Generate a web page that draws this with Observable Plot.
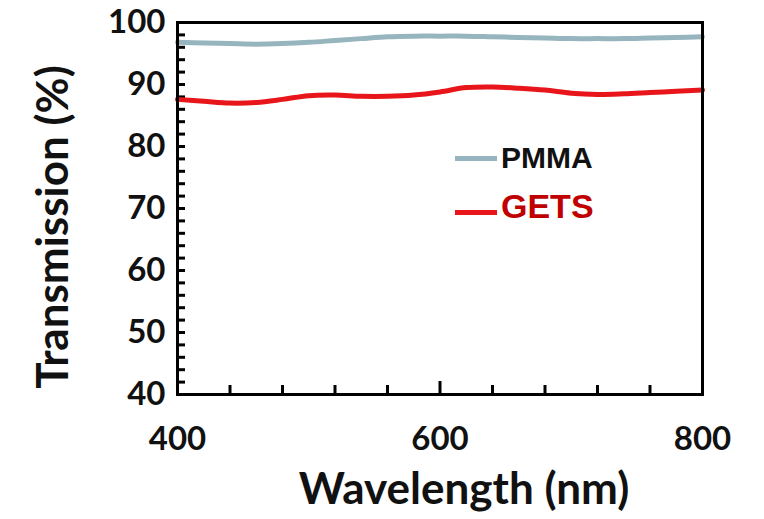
<!DOCTYPE html>
<html>
<head>
<meta charset="utf-8">
<script src="https://cdn.jsdelivr.net/npm/d3@7"></script>
<script src="https://cdn.jsdelivr.net/npm/@observablehq/plot@0.6"></script>
<style>
  html, body { margin: 0; padding: 0; background: #fff; }
  #wrap { position: relative; width: 764px; height: 519px; }
  .legend { position: absolute; font-family: "Liberation Sans", Arial, sans-serif; font-weight: bold; display: flex; align-items: center; }
  .legend .sw { display: inline-block; width: 42px; height: 5px; margin-right: 4px; }
  .ytitle { position: absolute; left: 51px; top: 227px; transform: translate(-50%, -50%) rotate(-90deg);
            white-space: nowrap; font-family: Lato, "Open Sans", sans-serif; font-weight: bold; font-size: 44px; color: #111; line-height: 1; }
</style>
</head>
<body>
<div id="wrap"></div>
<script>
// ---- data ----
const wavelengths = [400, 420, 440, 460, 480, 500, 520, 540, 560, 580, 600, 620, 640, 660, 680, 700, 720, 740, 760, 780, 800];
const pmma = [96.8, 96.7, 96.6, 96.5, 96.6, 96.8, 97.1, 97.4, 97.7, 97.8, 97.8, 97.8, 97.7, 97.6, 97.5, 97.4, 97.4, 97.4, 97.5, 97.6, 97.7];
const gets = [87.6, 87.3, 87.0, 87.1, 87.6, 88.2, 88.3, 88.1, 88.1, 88.3, 88.8, 89.5, 89.6, 89.4, 89.1, 88.6, 88.4, 88.5, 88.7, 88.9, 89.1];
const seriesNames = ["PMMA", "GETS"];
const seriesColors = ["#97b5be", "#e8161b"];
const legendTextColors = ["#111111", "#c00000"];
const xTickLabels = [400, 600, 800];
const yTickLabels = [40, 50, 60, 70, 80, 90, 100];
const xMinorTicks = [440, 480, 520, 560, 640, 680, 720, 760];
const xMajorInner = [600];
const yMinorTicks = d3.range(42, 100, 2);
const xTitle = "Wavelength (nm)";
const yTitle = "Transmission (%)";

const rows = [];
wavelengths.forEach((w, i) => {
  rows.push({ wl: w, t: pmma[i], s: seriesNames[0] });
  rows.push({ wl: w, t: gets[i], s: seriesNames[1] });
});

const W = 764, H = 519;
const mL = 177, mR = 62, mT = 22, mB = 125;
const fw = W - mL - mR, fh = H - mT - mB;
const font = "Lato, 'Open Sans', sans-serif";

const chart = Plot.plot({
  width: W,
  height: H,
  marginLeft: mL,
  marginRight: mR,
  marginTop: mT,
  marginBottom: mB,
  style: { fontFamily: font, fontWeight: "bold", background: "#fff", color: "#111" },
  x: { domain: [400, 800] },
  y: { domain: [40, 100] },
  color: { domain: seriesNames, range: seriesColors },
  marks: [
    Plot.tickY(yMinorTicks, { y: d => d, insetRight: fw - 8, stroke: "#000", strokeWidth: 3 }),
    Plot.tickX(xMinorTicks, { x: d => d, insetTop: fh - 9, stroke: "#000", strokeWidth: 3 }),
    Plot.tickX(xMajorInner, { x: d => d, insetTop: fh - 13, stroke: "#000", strokeWidth: 3 }),
    Plot.line(rows.filter(r => r.s === "GETS"), { x: "wl", y: "t", stroke: "s", strokeWidth: 5, curve: "catmull-rom" }),
    Plot.line(rows.filter(r => r.s === "PMMA"), { x: "wl", y: "t", stroke: "s", strokeWidth: 5, curve: "catmull-rom" }),
    Plot.frame({ stroke: "#000", strokeWidth: 3 }),
    Plot.axisY({ ticks: yTickLabels, tickSize: 0, tickPadding: 12, fontSize: 33, label: null, tickFormat: d => String(d) }),
    Plot.axisX({ ticks: xTickLabels, tickSize: 0, tickPadding: 32, fontSize: 33, label: null, tickFormat: d => String(d) }),
    Plot.text([xTitle], { frameAnchor: "bottom", dx: 24, dy: 95, fontSize: 44, fontWeight: "bold", fill: "#111", lineAnchor: "middle" })
  ]
});

const wrap = document.getElementById("wrap");
wrap.appendChild(chart);

// y-axis title (HTML overlay, rotated)
const yt = document.createElement("div");
yt.className = "ytitle";
yt.textContent = yTitle;
wrap.appendChild(yt);

// legend (HTML overlay)
const legendTops = [141, 187];
const legendSizes = [30, 34];
const swatchShift = [0, 6];
seriesNames.forEach((name, i) => {
  const d = document.createElement("div");
  d.className = "legend";
  d.style.left = "455px";
  d.style.top = legendTops[i] + "px";
  d.style.fontSize = legendSizes[i] + "px";
  d.style.color = legendTextColors[i];
  const sw = document.createElement("span");
  sw.className = "sw";
  sw.style.background = seriesColors[i];
  sw.style.position = "relative";
  sw.style.top = swatchShift[i] + "px";
  d.appendChild(sw);
  d.appendChild(document.createTextNode(name));
  wrap.appendChild(d);
});
</script>
</body>
</html>
